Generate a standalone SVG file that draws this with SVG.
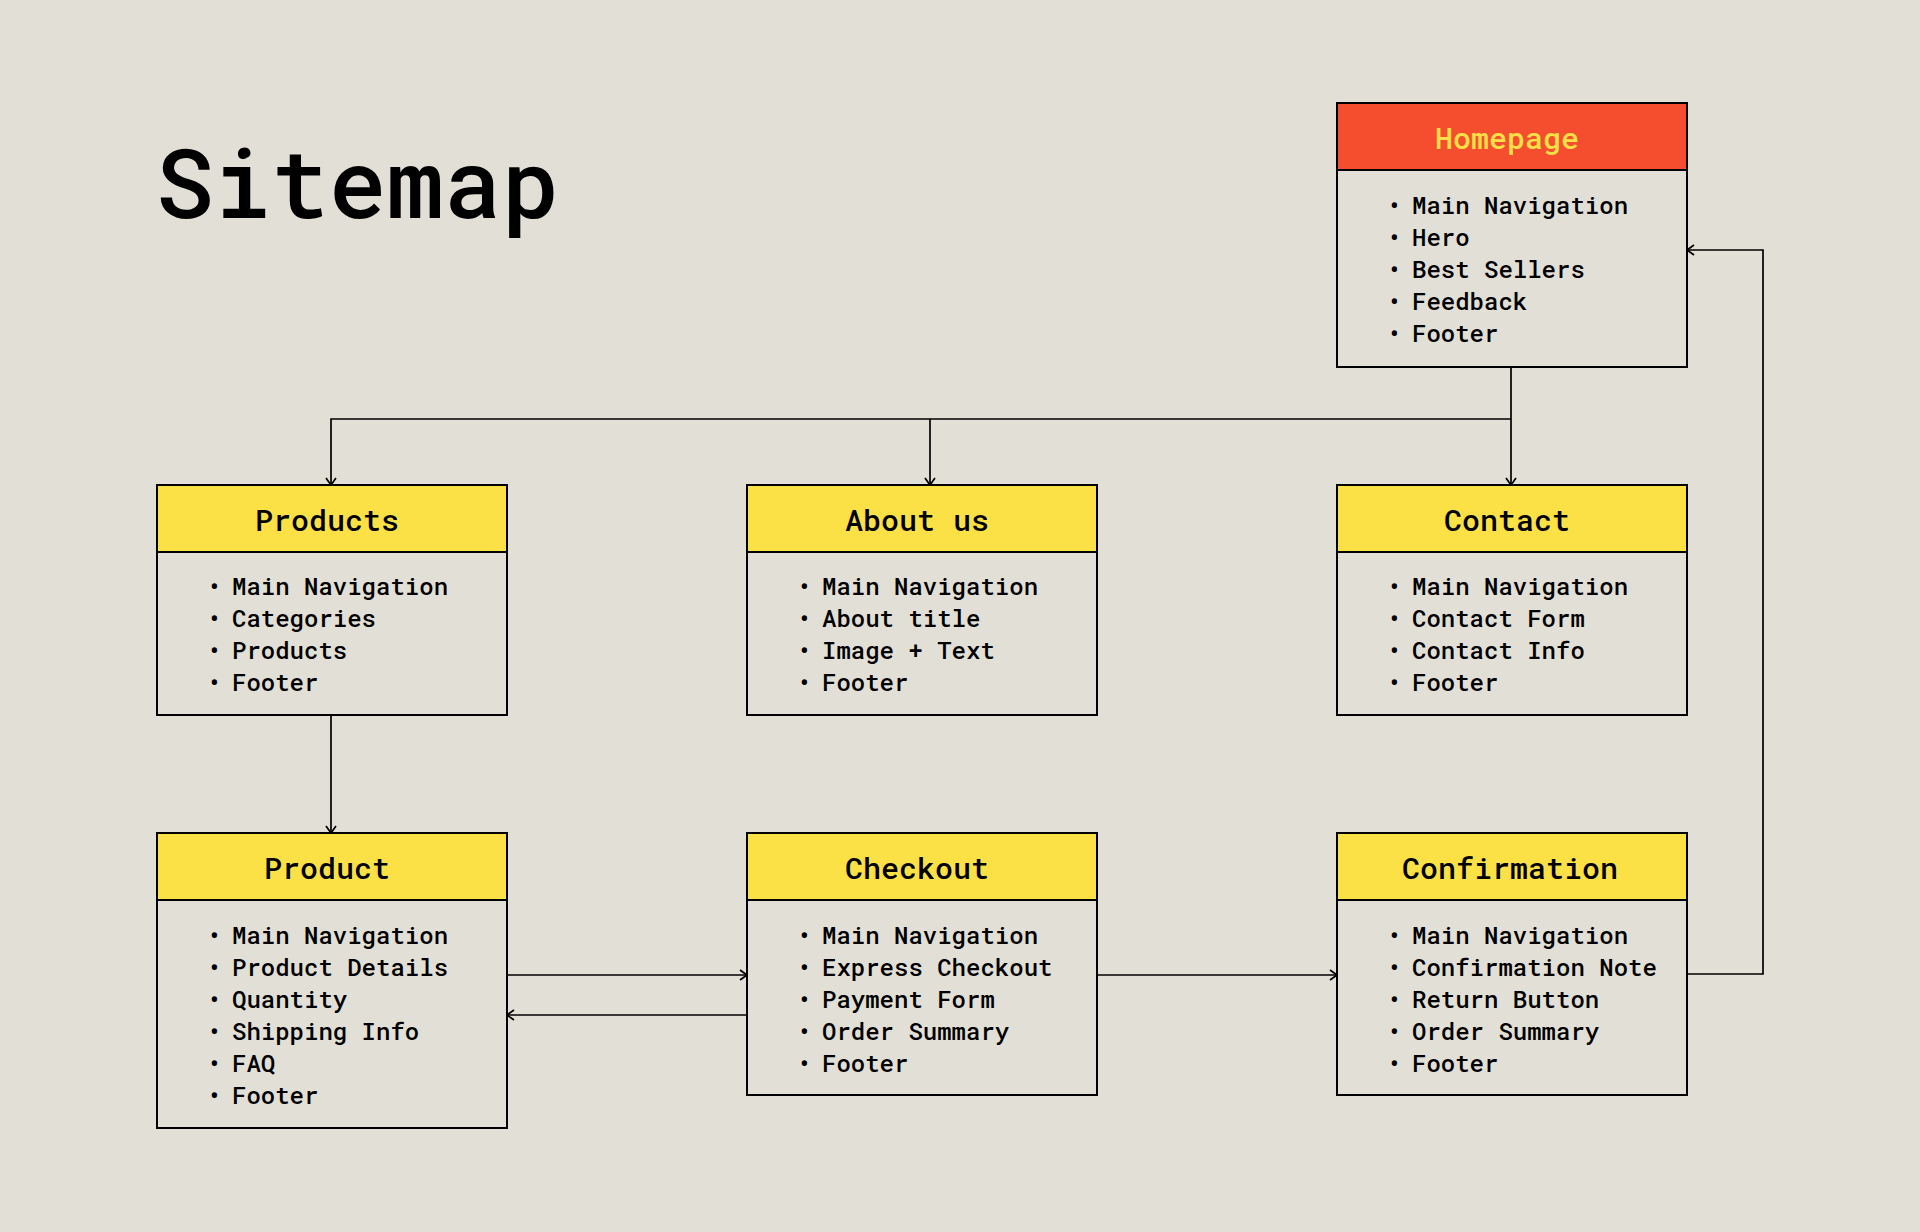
<svg xmlns="http://www.w3.org/2000/svg" width="1920" height="1232" viewBox="0 0 1920 1232">
<defs>
<style>
.bg{fill:#E2DFD7}
.box{fill:#E2DFD7;stroke:#000;stroke-width:2}
.hdr{fill:#FCE146;stroke:#000;stroke-width:2}
.hdr-home{fill:#F54E2E;stroke:#000;stroke-width:2}
.ttl{font-family:"Roboto Mono","DejaVu Sans Mono","Liberation Mono",monospace;font-size:30px;font-weight:500;fill:#000;text-anchor:middle}
.ttl-home{fill:#FDE047}
.itm{font-family:"Roboto Mono","DejaVu Sans Mono","Liberation Mono",monospace;font-size:24px;font-weight:500;fill:#000}
.big{font-family:"Roboto Mono","DejaVu Sans Mono","Liberation Mono",monospace;font-size:96px;font-weight:500;fill:#000}
.con{fill:none;stroke:#000;stroke-width:1.7;marker-end:url(#arr)}
</style>
<marker id="arr" markerUnits="userSpaceOnUse" markerWidth="14" markerHeight="14" viewBox="-8 -7 10 14" refX="0" refY="0" orient="auto">
<path d="M-7,-5 L0,0 L-7,5" fill="none" stroke="#000" stroke-width="1.7"/>
</marker>
</defs>
<rect class="bg" x="0" y="0" width="1920" height="1232"/>
<text class="big" x="156" y="218">Sitemap</text>

<g id="connectors">
<path class="con" d="M1511,367 V485"/>
<path class="con" d="M1511,419 H331 V485"/>
<path class="con" d="M930,419 V485"/>
<path class="con" d="M331,715 V833"/>
<path class="con" d="M507,975 H747"/>
<path class="con" d="M747,1015 H507"/>
<path class="con" d="M1097,975 H1337"/>
<path class="con" d="M1687,974 H1763 V250 H1687"/>
</g>

<g id="homepage">
<rect class="box" x="1337" y="103" width="350" height="264"/>
<rect class="hdr-home" x="1337" y="103" width="350" height="67"/>
<text class="ttl ttl-home" x="1507" y="149">Homepage</text>
<text class="itm"><tspan x="1387" y="214">•</tspan><tspan x="1412" y="214">Main Navigation</tspan></text>
<text class="itm"><tspan x="1387" y="246">•</tspan><tspan x="1412" y="246">Hero</tspan></text>
<text class="itm"><tspan x="1387" y="278">•</tspan><tspan x="1412" y="278">Best Sellers</tspan></text>
<text class="itm"><tspan x="1387" y="310">•</tspan><tspan x="1412" y="310">Feedback</tspan></text>
<text class="itm"><tspan x="1387" y="342">•</tspan><tspan x="1412" y="342">Footer</tspan></text>
</g>

<g id="products">
<rect class="box" x="157" y="485" width="350" height="230"/>
<rect class="hdr" x="157" y="485" width="350" height="67"/>
<text class="ttl" x="327" y="531">Products</text>
<text class="itm"><tspan x="207" y="595">•</tspan><tspan x="232" y="595">Main Navigation</tspan></text>
<text class="itm"><tspan x="207" y="627">•</tspan><tspan x="232" y="627">Categories</tspan></text>
<text class="itm"><tspan x="207" y="659">•</tspan><tspan x="232" y="659">Products</tspan></text>
<text class="itm"><tspan x="207" y="691">•</tspan><tspan x="232" y="691">Footer</tspan></text>
</g>

<g id="about">
<rect class="box" x="747" y="485" width="350" height="230"/>
<rect class="hdr" x="747" y="485" width="350" height="67"/>
<text class="ttl" x="917" y="531">About us</text>
<text class="itm"><tspan x="797" y="595">•</tspan><tspan x="822" y="595">Main Navigation</tspan></text>
<text class="itm"><tspan x="797" y="627">•</tspan><tspan x="822" y="627">About title</tspan></text>
<text class="itm"><tspan x="797" y="659">•</tspan><tspan x="822" y="659">Image + Text</tspan></text>
<text class="itm"><tspan x="797" y="691">•</tspan><tspan x="822" y="691">Footer</tspan></text>
</g>

<g id="contact">
<rect class="box" x="1337" y="485" width="350" height="230"/>
<rect class="hdr" x="1337" y="485" width="350" height="67"/>
<text class="ttl" x="1507" y="531">Contact</text>
<text class="itm"><tspan x="1387" y="595">•</tspan><tspan x="1412" y="595">Main Navigation</tspan></text>
<text class="itm"><tspan x="1387" y="627">•</tspan><tspan x="1412" y="627">Contact Form</tspan></text>
<text class="itm"><tspan x="1387" y="659">•</tspan><tspan x="1412" y="659">Contact Info</tspan></text>
<text class="itm"><tspan x="1387" y="691">•</tspan><tspan x="1412" y="691">Footer</tspan></text>
</g>

<g id="product">
<rect class="box" x="157" y="833" width="350" height="295"/>
<rect class="hdr" x="157" y="833" width="350" height="67"/>
<text class="ttl" x="327" y="879">Product</text>
<text class="itm"><tspan x="207" y="944">•</tspan><tspan x="232" y="944">Main Navigation</tspan></text>
<text class="itm"><tspan x="207" y="976">•</tspan><tspan x="232" y="976">Product Details</tspan></text>
<text class="itm"><tspan x="207" y="1008">•</tspan><tspan x="232" y="1008">Quantity</tspan></text>
<text class="itm"><tspan x="207" y="1040">•</tspan><tspan x="232" y="1040">Shipping Info</tspan></text>
<text class="itm"><tspan x="207" y="1072">•</tspan><tspan x="232" y="1072">FAQ</tspan></text>
<text class="itm"><tspan x="207" y="1104">•</tspan><tspan x="232" y="1104">Footer</tspan></text>
</g>

<g id="checkout">
<rect class="box" x="747" y="833" width="350" height="262"/>
<rect class="hdr" x="747" y="833" width="350" height="67"/>
<text class="ttl" x="917" y="879">Checkout</text>
<text class="itm"><tspan x="797" y="944">•</tspan><tspan x="822" y="944">Main Navigation</tspan></text>
<text class="itm"><tspan x="797" y="976">•</tspan><tspan x="822" y="976">Express Checkout</tspan></text>
<text class="itm"><tspan x="797" y="1008">•</tspan><tspan x="822" y="1008">Payment Form</tspan></text>
<text class="itm"><tspan x="797" y="1040">•</tspan><tspan x="822" y="1040">Order Summary</tspan></text>
<text class="itm"><tspan x="797" y="1072">•</tspan><tspan x="822" y="1072">Footer</tspan></text>
</g>

<g id="confirmation">
<rect class="box" x="1337" y="833" width="350" height="262"/>
<rect class="hdr" x="1337" y="833" width="350" height="67"/>
<text class="ttl" x="1510" y="879">Confirmation</text>
<text class="itm"><tspan x="1387" y="944">•</tspan><tspan x="1412" y="944">Main Navigation</tspan></text>
<text class="itm"><tspan x="1387" y="976">•</tspan><tspan x="1412" y="976">Confirmation Note</tspan></text>
<text class="itm"><tspan x="1387" y="1008">•</tspan><tspan x="1412" y="1008">Return Button</tspan></text>
<text class="itm"><tspan x="1387" y="1040">•</tspan><tspan x="1412" y="1040">Order Summary</tspan></text>
<text class="itm"><tspan x="1387" y="1072">•</tspan><tspan x="1412" y="1072">Footer</tspan></text>
</g>
</svg>
